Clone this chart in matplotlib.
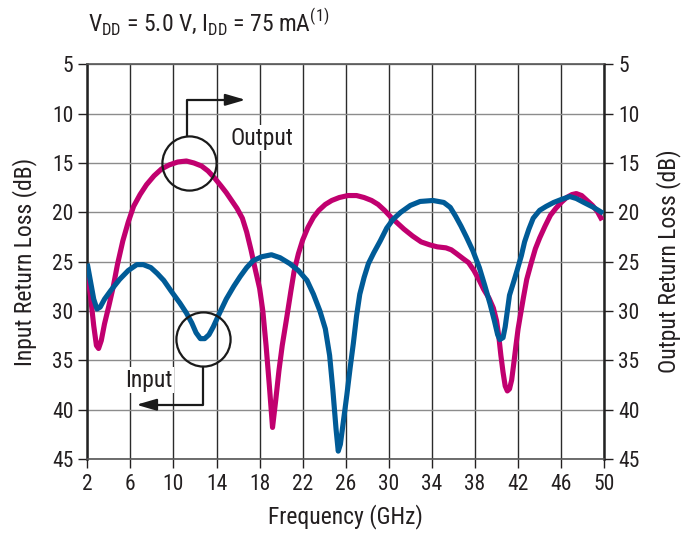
import matplotlib
matplotlib.use("Agg")
import matplotlib.pyplot as plt

plt.rcParams['font.family'] = ['Roboto Condensed', 'Archivo Narrow', 'PT Sans Narrow', 'Asap Condensed', 'DejaVu Sans']

# input return loss (blue)
inFreq = [2.0, 2.3, 2.6, 2.9, 3.2, 3.6, 4.2, 5.0, 5.8, 6.6, 7.2, 7.9, 8.5, 9.1, 9.8, 10.6, 11.2, 11.7,
          12.1, 12.5, 12.9, 13.3, 13.7, 14.2, 14.9, 15.6, 16.2, 16.8, 17.4, 18.2, 19.1, 19.9, 20.8,
          21.6, 22.4, 23.0, 23.6, 24.1, 24.5, 24.8, 25.1, 25.3, 25.5, 25.8, 26.1, 26.4, 26.7, 27.0,
          27.3, 27.7, 28.1, 28.6, 29.2, 29.8, 30.4, 31.1, 32.0, 32.9, 34.1, 35.1, 35.7, 36.2, 36.7,
          37.2, 37.8, 38.4, 38.9, 39.4, 39.8, 40.1, 40.3, 40.6, 40.8, 41.0, 41.2, 41.6, 41.9, 42.3,
          42.6, 43.0, 43.4, 44.0, 44.6, 45.3, 46.0, 46.8, 47.4, 48.1, 49.0, 49.9]
inLoss = [25.2, 27.0, 28.8, 29.8, 29.6, 28.8, 27.9, 26.8, 25.9, 25.3, 25.3, 25.6, 26.2, 26.9, 28.0, 29.2, 30.2, 31.2,
          32.2, 32.8, 32.8, 32.4, 31.6, 30.4, 28.8, 27.5, 26.5, 25.6, 24.9, 24.5, 24.3, 24.6, 25.2,
          25.9, 26.9, 28.3, 30.0, 31.8, 34.5, 38.0, 42.0, 44.2, 43.5, 41.0, 38.5, 35.8, 33.3, 30.5,
          28.3, 26.6, 25.2, 24.1, 22.9, 21.6, 20.7, 20.0, 19.3, 18.9, 18.8, 19.0, 19.5, 20.4, 21.4,
          22.5, 23.9, 25.6, 27.4, 29.3, 31.0, 32.4, 32.9, 32.7, 31.6, 30.0, 28.4, 27.0, 25.9, 24.4,
          23.0, 21.7, 20.6, 19.8, 19.4, 19.0, 18.7, 18.4, 18.6, 19.0, 19.5, 20.1]

# output return loss (magenta)
outFreq = [2.0, 2.3, 2.6, 2.85, 3.05, 3.3, 3.6, 4.0, 4.4, 4.8, 5.3, 5.8, 6.3, 6.9, 7.5, 8.2, 8.9, 9.6,
           10.4, 11.2, 11.9, 12.6, 13.2, 13.8, 14.4, 14.9, 15.4, 15.9, 16.4, 16.8, 17.2, 17.6, 18.0,
           18.3, 18.6, 18.9, 19.2, 19.5, 19.8, 20.1, 20.5, 20.9, 21.2, 21.6, 22.0, 22.5, 23.0, 23.5,
           24.1, 24.7, 25.4, 26.2, 27.0, 27.7, 28.4, 29.0, 29.6, 30.2, 30.8, 31.4, 32.2, 33.0, 33.8,
           34.5, 35.3, 35.8, 36.3, 36.9, 37.4, 37.9, 38.4, 38.8, 39.3, 39.7, 40.0, 40.2, 40.4, 40.6,
           40.8, 41.0, 41.2, 41.4, 41.6, 41.8, 42.0, 42.2, 42.5, 42.8, 43.2, 43.6, 44.0, 44.5, 45.0,
           45.5, 46.0, 46.5, 47.0, 47.4, 47.9, 48.4, 48.9, 49.35, 49.6, 49.8]
outLoss = [26.0, 28.5, 31.5, 33.5, 33.8, 33.0, 31.3, 29.5, 27.6, 25.3, 22.9, 21.0, 19.4, 18.2, 17.2, 16.3, 15.6, 15.2,
           14.9, 14.8, 15.0, 15.3, 15.8, 16.5, 17.3, 18.0, 18.8, 19.6, 20.6, 22.0, 23.8, 25.8, 27.7,
           30.0, 33.5, 37.5, 41.8, 39.0, 36.0, 33.5, 30.8, 28.0, 26.0, 24.2, 22.8, 21.5, 20.5, 19.8,
           19.2, 18.8, 18.5, 18.3, 18.3, 18.5, 18.8, 19.2, 19.8, 20.5, 21.1, 21.7, 22.4, 23.0, 23.3,
           23.5, 23.6, 23.8, 24.2, 24.7, 25.1, 25.9, 26.9, 27.8, 28.7, 29.7, 31.0, 32.5, 34.5, 36.2,
           37.6, 38.1, 37.9, 37.0, 35.3, 33.5, 31.8, 30.5, 28.6, 26.8, 25.2, 23.7, 22.6, 21.4, 20.3,
           19.6, 19.0, 18.5, 18.2, 18.1, 18.3, 18.8, 19.3, 19.9, 20.4, 20.8]

xTicks = list(range(2, 51, 4))
yTicks = list(range(5, 46, 5))

textColor = "#231f20"
magenta = "#c1006f"
blue = "#005b97"

fig = plt.figure(figsize=(6.91, 5.34), dpi=100)
ax = fig.add_axes([0.1263, 0.1404, 0.7482, 0.7392])

for x in xTicks:
    ax.axvline(x, color="#2b2b2b", lw=1.0, zorder=1)
for y in yTicks:
    ax.axhline(y, color="#8c8c8c", lw=1.0, zorder=1)

ax.plot(outFreq, outLoss, color=magenta, lw=3.7, solid_joinstyle="round", solid_capstyle="butt", zorder=3)
ax.plot(inFreq, inLoss, color=blue, lw=3.7, solid_joinstyle="round", solid_capstyle="butt", zorder=4)

ax.set_xlim(2, 50)
ax.set_ylim(45, 5)
ax.set_xticks(xTicks)
ax.set_yticks(yTicks)
ax.tick_params(axis="both", labelsize=15.5, colors=textColor, length=6.5, width=1.0, direction="out")
ax.tick_params(axis="x", pad=4)
for s in ["top", "bottom"]:
    ax.spines[s].set_color("#555555")
    ax.spines[s].set_linewidth(1.2)
for s in ["left", "right"]:
    ax.spines[s].set_color("#222222")
    ax.spines[s].set_linewidth(1.8)

ax.set_xlabel("Frequency (GHz)", fontsize=17, color=textColor, labelpad=7)
ax.set_ylabel("Input Return Loss (dB)", fontsize=17, color=textColor, labelpad=11)

ax2 = ax.twinx()
ax2.set_ylim(45, 5)
ax2.set_yticks(yTicks)
ax2.tick_params(axis="y", labelsize=15.5, colors=textColor, length=6.5, width=1.0, direction="out")
ax2.set_ylabel("Output Return Loss (dB)", fontsize=17, color=textColor, labelpad=12)
for s in ax2.spines.values():
    s.set_visible(False)

# annotation circles and arrows
ax.plot([11.4], [15.0], marker="o", ms=39, mfc="none", mec="#1a1a1a", mew=1.6, zorder=5)
ax.plot([11.29, 11.29, 15.6], [12.3, 8.6, 8.6], color="#1a1a1a", lw=1.6, zorder=5)
ax.annotate("", xy=(16.95, 8.6), xytext=(15.4, 8.6),
            arrowprops=dict(arrowstyle="-|>,head_length=1.2,head_width=0.35", color="#1a1a1a", lw=1.6), zorder=5)
ax.text(15.3, 12.5, "Output", fontsize=17, color=textColor, va="center", ha="left", zorder=5,
        bbox=dict(facecolor="white", edgecolor="none", pad=1))

ax.plot([12.7], [32.8], marker="o", ms=39, mfc="none", mec="#1a1a1a", mew=1.6, zorder=5)
ax.plot([12.77, 12.77, 8.0], [35.7, 39.5, 39.5], color="#1a1a1a", lw=1.6, zorder=5)
ax.annotate("", xy=(6.3, 39.5), xytext=(8.2, 39.5),
            arrowprops=dict(arrowstyle="-|>,head_length=1.2,head_width=0.35", color="#1a1a1a", lw=1.6), zorder=5)
ax.text(5.5, 37.0, "Input", fontsize=17, color=textColor, va="center", ha="left", zorder=5,
        bbox=dict(facecolor="white", edgecolor="none", pad=1))

fig.text(0.127, 0.9406, r"V$_{\mathregular{DD}}$ = 5.0 V, I$_{\mathregular{DD}}$ = 75 mA$^{\mathregular{(1)}}$",
         fontsize=17, color=textColor, va="baseline", ha="left")

fig.savefig("out.png", dpi=100)
